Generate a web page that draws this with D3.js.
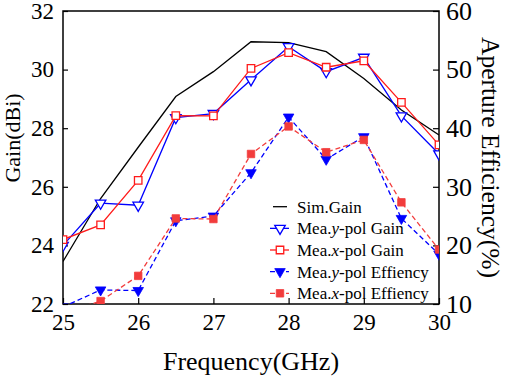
<!DOCTYPE html>
<html lang="en">
<head>
    <meta charset="UTF-8">
    <title>Gain and Aperture Efficiency</title>
    <script src="https://d3js.org/d3.v7.min.js"></script>
    <style>
        body { margin: 0; background: #fff; }
        text { font-family: "Liberation Serif", "Times New Roman", serif; fill: #000; }
        .tick line { stroke: #000; stroke-width: 1.2px; }
    </style>
</head>
<body>
    <svg id="svg" width="505" height="379"></svg>
    <script>
        // frequency points (GHz)
        const freq = [25, 25.5, 26, 26.5, 27, 27.5, 28, 28.5, 29, 29.5, 30];

        // gain (dBi), left axis
        const simGain = [23.45, 25.6, 27.35, 29.08, 29.93, 30.95, 30.92, 30.61, 29.7, 28.62, 27.77];
        const yPolGain = [24.0, 25.44, 25.37, 28.36, 28.5, 29.65, 30.78, 29.93, 30.42, 28.42, 27.12];
        const xPolGain = [24.2, 24.7, 26.22, 28.43, 28.42, 30.04, 30.58, 30.08, 30.3, 28.88, 27.43];

        // aperture efficiency (%), right axis
        const yPolEff = [9.5, 12.4, 12.3, 24.2, 25.0, 32.4, 41.9, 34.7, 38.55, 24.6, 18.5];
        const xPolEff = [8.5, 10.5, 14.8, 24.6, 24.5, 35.6, 40.3, 35.9, 38.0, 27.35, 19.3];

        const xTicks = [25, 26, 27, 28, 29, 30];
        const gainTicks = [22, 24, 26, 28, 30, 32];
        const effTicks = [10, 20, 30, 40, 50, 60];

        const legendLabels = [
            ["Sim.Gain"],
            ["Mea.", "y", "-pol Gain"],
            ["Mea.", "x", "-pol Gain"],
            ["Mea.", "y", "-pol Effiency"],
            ["Mea.", "x", "-pol Effiency"]
        ];

        const m = {left: 63, right: 439, top: 11, bottom: 304};
        const blue = "#0000ff", red = "#ff1a1a", redFill = "#f23c3c";

        const svg = d3.select("#svg");

        const x = d3.scaleLinear().domain([25, 30]).range([m.left, m.right]);
        const yG = d3.scaleLinear().domain([22, 32]).range([m.bottom, m.top]);
        const yE = d3.scaleLinear().domain([10, 60]).range([m.bottom, m.top]);

        svg.append("clipPath").attr("id", "plot")
            .append("rect")
            .attr("x", m.left).attr("y", m.top)
            .attr("width", m.right - m.left).attr("height", m.bottom - m.top);

        function styleAxis(g, size) {
            g.attr("font-family", null).attr("font-size", null);
            g.select(".domain").remove();
            g.selectAll("text").attr("font-size", size);
        }

        // axes, ticks point inward
        svg.append("g")
            .attr("transform", `translate(0,${m.bottom})`)
            .call(d3.axisBottom(x).tickValues(xTicks).tickSize(-6).tickPadding(10).tickFormat(d3.format("d")))
            .call(styleAxis, 23);

        svg.append("g")
            .attr("transform", `translate(${m.left},0)`)
            .call(d3.axisLeft(yG).tickValues(gainTicks).tickSize(-5).tickPadding(9))
            .call(styleAxis, 23);

        svg.append("g")
            .attr("transform", `translate(${m.right},0)`)
            .call(d3.axisRight(yE).tickValues(effTicks).tickSize(-6).tickPadding(7))
            .call(styleAxis, 26);

        svg.append("rect")
            .attr("x", m.left).attr("y", m.top)
            .attr("width", m.right - m.left).attr("height", m.bottom - m.top)
            .attr("fill", "none").attr("stroke", "#000").attr("stroke-width", 1.5);

        // axis titles
        svg.append("text")
            .attr("x", (m.left + m.right) / 2).attr("y", 370)
            .attr("text-anchor", "middle").attr("font-size", 26)
            .text("Frequency(GHz)");

        svg.append("text")
            .attr("transform", "translate(20,138) rotate(-90)")
            .attr("text-anchor", "middle").attr("font-size", 22)
            .text("Gain(dBi)");

        svg.append("text")
            .attr("transform", `translate(482,${(m.top + m.bottom) / 2}) rotate(90)`)
            .attr("text-anchor", "middle").attr("font-size", 25.5)
            .text("Aperture Efficiency(%)");

        const plot = svg.append("g").attr("clip-path", "url(#plot)");

        const triDown = d3.symbol().type(d3.symbolTriangle).size(48);
        const square = d3.symbol().type(d3.symbolSquare).size(56);

        function series(values, yScale, color, opts) {
            const pts = freq.map((f, i) => [x(f), yScale(values[i])]);
            plot.append("path")
                .attr("d", d3.line()(pts))
                .attr("fill", "none")
                .attr("stroke", color)
                .attr("stroke-width", 1.3)
                .attr("stroke-dasharray", opts.dash || null);
            if (!opts.marker) return;
            plot.append("g").selectAll("path")
                .data(pts)
                .enter().append("path")
                .attr("d", opts.marker === "tri" ? triDown() : square())
                .attr("transform", d => `translate(${d[0]},${d[1]})` + (opts.marker === "tri" ? " rotate(180)" : ""))
                .attr("fill", opts.filled ? color : "#fff")
                .attr("stroke", color)
                .attr("stroke-width", opts.filled ? 0.8 : 1.3);
        }

        series(simGain, yG, "#000", {});
        series(yPolGain, yG, blue, {marker: "tri"});
        series(xPolGain, yG, red, {marker: "sq"});
        series(yPolEff, yE, blue, {marker: "tri", filled: true, dash: "5,3"});
        series(xPolEff, yE, redFill, {marker: "sq", filled: true, dash: "5,3"});

        // legend
        const legendStyle = [
            {color: "#000"},
            {color: blue, marker: "tri"},
            {color: red, marker: "sq"},
            {color: blue, marker: "tri", filled: true, dash: "5,3"},
            {color: redFill, marker: "sq", filled: true, dash: "5,3"}
        ];
        const legend = svg.append("g");
        legendLabels.forEach((parts, i) => {
            const cy = 206.7 + i * 21.65;
            const s = legendStyle[i];
            const row = legend.append("g");
            row.append("line")
                .attr("x1", s.marker ? 270 : 273).attr("x2", s.marker ? 289 : 287)
                .attr("y1", cy).attr("y2", cy)
                .attr("stroke", s.color).attr("stroke-width", 1.3)
                .attr("stroke-dasharray", s.dash || null);
            if (s.marker) {
                row.append("path")
                    .attr("d", s.marker === "tri" ? triDown() : square())
                    .attr("transform", `translate(280,${cy})` + (s.marker === "tri" ? " rotate(180)" : ""))
                    .attr("fill", s.filled ? s.color : "#fff")
                    .attr("stroke", s.color)
                    .attr("stroke-width", s.filled ? 0.8 : 1.3);
            }
            const t = row.append("text")
                .attr("x", 297).attr("y", cy + 6)
                .attr("font-size", 17);
            parts.forEach((p, j) => {
                t.append("tspan").attr("font-style", j === 1 ? "italic" : null).text(p);
            });
        });
    </script>
</body>
</html>
